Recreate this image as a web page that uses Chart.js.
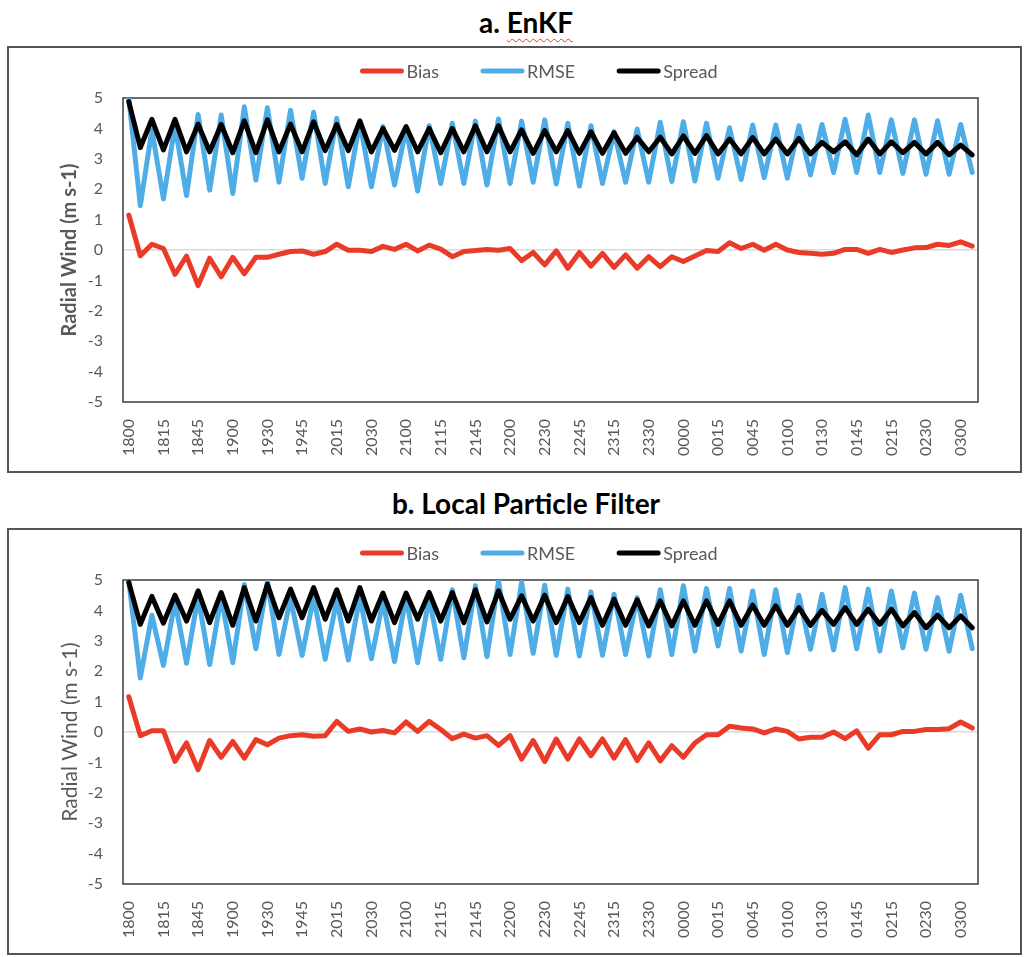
<!DOCTYPE html>
<html>
<head>
<meta charset="utf-8">
<title>Radial wind verification</title>
<script src="https://cdn.jsdelivr.net/npm/chart.js@4.4.1/dist/chart.umd.min.js"></script>
<style>
  html, body { margin: 0; padding: 0; background: #fff; }
  body { position: relative; width: 1024px; height: 957px; overflow: hidden; font-family: Lato, 'Noto Sans', sans-serif; }
  .panel-title { position: absolute; left: 0; width: 1052px; text-align: center; font-weight: 700; font-size: 28px; line-height: 34px; color: #000; }
  .spell { text-decoration: underline wavy #e23b2e; text-decoration-thickness: 1px; text-underline-offset: 5px; }
  .frame { position: absolute; left: 7px; width: 1015px; height: 427px; box-sizing: border-box; border: 2px solid #555; }
  canvas { position: absolute; left: 9px; }
</style>
</head>
<body>
<div class="panel-title" style="top:5px;">a. <span class="spell">EnKF</span></div>
<div class="frame" style="top:46px;"></div>
<canvas id="chart-enkf" width="1010" height="423" style="top:48px;"></canvas>

<div class="panel-title" style="top:486px;">b. Local Particle Filter</div>
<div class="frame" style="top:528px;"></div>
<canvas id="chart-lpf" width="1010" height="423" style="top:530px;"></canvas>

<script>
// analysis cycles every 15 min, each time appears twice (prior / posterior)
var categories = [
  '1800', '1800', '1815', '1815', '1830', '1830', '1845', '1845',
  '1900', '1900', '1915', '1915', '1930', '1930', '1945', '1945',
  '2000', '2000', '2015', '2015', '2030', '2030', '2045', '2045',
  '2100', '2100', '2115', '2115', '2130', '2130', '2145', '2145',
  '2200', '2200', '2215', '2215', '2230', '2230', '2245', '2245',
  '2300', '2300', '2315', '2315', '2330', '2330', '2345', '2345',
  '0000', '0000', '0015', '0015', '0030', '0030', '0045', '0045',
  '0100', '0100', '0115', '0115', '0130', '0130', '0145', '0145',
  '0200', '0200', '0215', '0215', '0230', '0230', '0245', '0245',
  '0300', '0300'
];

var yTicks = [5, 4, 3, 2, 1, 0, -1, -2, -3, -4, -5];

// a. EnKF
var enkfBias = [
  1.15, -0.19, 0.19, 0.05, -0.80, -0.20, -1.17, -0.27, -0.88, -0.24,
  -0.78, -0.24, -0.24, -0.14, -0.05, -0.03, -0.14, -0.05, 0.19, -0.01,
  -0.01, -0.05, 0.12, 0.02, 0.19, -0.03, 0.16, 0.03, -0.22, -0.05,
  -0.02, 0.02, -0.01, 0.05, -0.35, -0.08, -0.49, -0.03, -0.60, -0.08,
  -0.53, -0.11, -0.57, -0.16, -0.60, -0.22, -0.55, -0.22, -0.38, -0.20,
  -0.02, -0.05, 0.24, 0.05, 0.19, -0.01, 0.19, 0.00, -0.08, -0.11,
  -0.14, -0.11, 0.02, 0.02, -0.11, 0.02, -0.08, 0.00, 0.07, 0.08,
  0.19, 0.15, 0.27, 0.13
];
var enkfRmse = [
  4.99, 1.46, 3.95, 1.68, 4.10, 1.79, 4.46, 1.97, 4.44, 1.86,
  4.71, 2.30, 4.68, 2.23, 4.60, 2.36, 4.53, 2.19, 4.33, 2.08,
  4.22, 2.08, 4.06, 2.14, 4.00, 1.94, 4.09, 2.19, 4.17, 2.19,
  4.24, 2.14, 4.31, 2.19, 4.24, 2.23, 4.28, 2.17, 4.17, 2.10,
  4.09, 2.19, 3.89, 2.23, 3.98, 2.23, 4.20, 2.25, 4.22, 2.27,
  4.17, 2.36, 4.02, 2.32, 4.11, 2.38, 4.11, 2.36, 4.09, 2.47,
  4.13, 2.55, 4.30, 2.55, 4.44, 2.55, 4.28, 2.52, 4.28, 2.49,
  4.25, 2.49, 4.13, 2.55
];
var enkfSpread = [
  4.88, 3.37, 4.30, 3.29, 4.30, 3.23, 4.14, 3.23, 4.13, 3.20,
  4.25, 3.20, 4.28, 3.23, 4.14, 3.23, 4.22, 3.27, 4.13, 3.27,
  4.25, 3.23, 4.00, 3.28, 4.06, 3.23, 4.00, 3.20, 4.00, 3.23,
  4.09, 3.23, 4.09, 3.23, 3.95, 3.18, 3.93, 3.23, 3.93, 3.18,
  3.89, 3.18, 3.86, 3.18, 3.71, 3.23, 3.71, 3.16, 3.75, 3.18,
  3.76, 3.16, 3.65, 3.16, 3.70, 3.16, 3.65, 3.16, 3.67, 3.16,
  3.54, 3.23, 3.56, 3.13, 3.65, 3.16, 3.56, 3.20, 3.54, 3.16,
  3.54, 3.13, 3.45, 3.13
];

// b. Local Particle Filter
var lpfBias = [
  1.16, -0.12, 0.04, 0.04, -0.97, -0.36, -1.24, -0.28, -0.83, -0.31,
  -0.86, -0.25, -0.42, -0.20, -0.12, -0.09, -0.14, -0.12, 0.35, 0.02,
  0.10, 0.00, 0.05, -0.03, 0.33, 0.02, 0.35, 0.08, -0.22, -0.07,
  -0.20, -0.12, -0.44, -0.12, -0.89, -0.28, -0.97, -0.23, -0.89, -0.23,
  -0.78, -0.23, -0.86, -0.25, -0.94, -0.36, -0.95, -0.45, -0.83, -0.36,
  -0.09, -0.09, 0.19, 0.13, 0.10, -0.03, 0.10, 0.02, -0.23, -0.17,
  -0.17, 0.00, -0.22, 0.04, -0.53, -0.09, -0.09, 0.02, 0.02, 0.08,
  0.08, 0.11, 0.33, 0.13
];
var lpfRmse = [
  4.97, 1.78, 3.84, 2.19, 4.30, 2.26, 4.45, 2.22, 4.45, 2.28,
  4.85, 2.74, 4.95, 2.55, 4.40, 2.52, 4.45, 2.39, 4.35, 2.37,
  4.45, 2.41, 4.30, 2.32, 4.45, 2.28, 4.42, 2.39, 4.68, 2.44,
  4.81, 2.48, 4.97, 2.55, 4.92, 2.59, 4.83, 2.52, 4.70, 2.50,
  4.61, 2.52, 4.53, 2.55, 4.42, 2.50, 4.68, 2.55, 4.81, 2.66,
  4.72, 2.83, 4.72, 2.66, 4.64, 2.55, 4.68, 2.61, 4.50, 2.72,
  4.53, 2.70, 4.75, 2.74, 4.70, 2.66, 4.64, 2.77, 4.57, 2.72,
  4.42, 2.66, 4.50, 2.74
];
var lpfSpread = [
  4.92, 3.54, 4.46, 3.58, 4.50, 3.65, 4.64, 3.60, 4.59, 3.51,
  4.75, 3.65, 4.86, 3.76, 4.70, 3.76, 4.75, 3.71, 4.68, 3.65,
  4.75, 3.65, 4.57, 3.60, 4.57, 3.71, 4.59, 3.65, 4.59, 3.60,
  4.68, 3.62, 4.64, 3.71, 4.48, 3.65, 4.50, 3.60, 4.46, 3.60,
  4.42, 3.51, 4.37, 3.51, 4.35, 3.49, 4.31, 3.49, 4.31, 3.51,
  4.31, 3.54, 4.31, 3.51, 4.17, 3.51, 4.15, 3.51, 4.09, 3.51,
  4.00, 3.54, 4.09, 3.54, 4.04, 3.54, 4.04, 3.49, 3.93, 3.43,
  3.84, 3.43, 3.82, 3.43
];

(function () {
  'use strict';

  var FONT = 'Lato, "Noto Sans", sans-serif';
  var TEXT = '#595959';
  var COLORS = { bias: '#ea3a28', rmse: '#4eade6', spread: '#000000' };

  // Excel style legend: short thick line right before the label
  var lineLegend = {
    id: 'lineLegend',
    afterDraw: function (chart, args, opts) {
      var ctx = chart.ctx;
      var sets = chart.data.datasets;
      var lineLen = 43, gap = 3, spacing = 42;
      ctx.save();
      ctx.font = opts.size + 'px ' + FONT;
      var widths = sets.map(function (d) { return ctx.measureText(d.label).width; });
      var total = widths.reduce(function (s, w) { return s + lineLen + gap + w; }, 0) + spacing * (sets.length - 1);
      var x = opts.x - total / 2;
      ctx.textBaseline = 'middle';
      ctx.textAlign = 'left';
      sets.forEach(function (d, i) {
        ctx.strokeStyle = d.borderColor;
        ctx.lineWidth = 5;
        ctx.lineCap = 'round';
        ctx.beginPath();
        ctx.moveTo(x + 2, opts.y);
        ctx.lineTo(x + lineLen - 2, opts.y);
        ctx.stroke();
        ctx.fillStyle = TEXT;
        ctx.fillText(d.label, x + lineLen + gap, opts.y + 1);
        x += lineLen + gap + widths[i] + spacing;
      });
      ctx.restore();
    }
  };

  // dark border round the plot area
  var plotFrame = {
    id: 'plotFrame',
    beforeDatasetsDraw: function (chart) {
      var a = chart.chartArea;
      var ctx = chart.ctx;
      ctx.save();
      ctx.strokeStyle = '#3c3c3c';
      ctx.lineWidth = 1.5;
      ctx.strokeRect(a.left, a.top, a.right - a.left, a.bottom - a.top);
      ctx.restore();
    }
  };

  function series(label, data, color, order) {
    return {
      label: label,
      data: data,
      borderColor: color,
      backgroundColor: color,
      borderWidth: 5,
      pointRadius: 0,
      tension: 0,
      borderJoinStyle: 'round',
      borderCapStyle: 'round',
      order: order
    };
  }

  function makeChart(canvasId, bias, rmse, spread, boldTitle) {
    return new Chart(document.getElementById(canvasId), {
      type: 'line',
      data: {
        labels: categories,
        datasets: [
          series('Bias', bias, COLORS.bias, 2),
          series('RMSE', rmse, COLORS.rmse, 1),
          series('Spread', spread, COLORS.spread, 0)
        ]
      },
      options: {
        responsive: false,
        animation: false,
        layout: { padding: { top: 50, left: 45, right: 41, bottom: 0 } },
        plugins: {
          legend: { display: false },
          tooltip: { enabled: false },
          lineLegend: { x: 530, y: 23, size: 18 }
        },
        scales: {
          x: {
            type: 'category',
            offset: true,
            grid: { display: false, drawTicks: false },
            border: { display: false },
            afterFit: function (scale) { scale.height = 69; },
            ticks: {
              autoSkip: false,
              maxRotation: 90,
              minRotation: 90,
              padding: 17,
              color: TEXT,
              font: { family: FONT, size: 16 },
              callback: function (value, index) {
                return index % 3 === 0 ? categories[index] : null;
              }
            }
          },
          y: {
            min: yTicks[yTicks.length - 1],
            max: yTicks[0],
            afterFit: function (scale) { scale.width = 69; },
            afterBuildTicks: function (scale) {
              scale.ticks = yTicks.map(function (v) { return { value: v }; });
            },
            border: { display: false },
            grid: {
              drawTicks: false,
              lineWidth: 1.5,
              color: function (ctx) {
                return ctx.tick && ctx.tick.value === 0 ? '#d9d9d9' : 'rgba(0,0,0,0)';
              }
            },
            ticks: {
              padding: 20,
              color: TEXT,
              font: { family: FONT, size: 16 }
            },
            title: {
              display: true,
              text: 'Radial Wind (m s-1)',
              color: TEXT,
              padding: { top: 4, bottom: 0 },
              font: { family: FONT, size: boldTitle ? 20 : 21, weight: boldTitle ? 'bold' : 'normal' }
            }
          }
        }
      },
      plugins: [plotFrame, lineLegend]
    });
  }

  makeChart('chart-enkf', enkfBias, enkfRmse, enkfSpread, true);
  makeChart('chart-lpf', lpfBias, lpfRmse, lpfSpread, false);
}());
</script>
</body>
</html>
